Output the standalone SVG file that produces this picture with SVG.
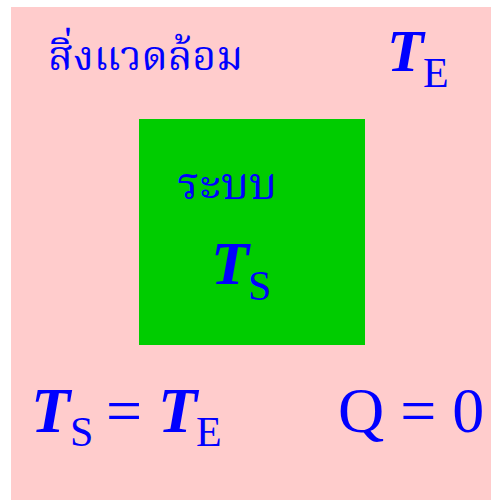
<svg xmlns="http://www.w3.org/2000/svg" width="491" height="500" viewBox="0 0 491 500">
<style>
.t{fill:#0000ff;font-family:"Liberation Serif","Times New Roman",serif}
.i{font-style:italic;font-weight:bold}
.sub{font-size:42px;font-style:normal;font-weight:normal}
.th{fill:#0000ff;font-family:"Liberation Serif","Noto Serif Thai","Noto Sans Thai",serif}
</style>
<rect x="11" y="7" width="480" height="493" fill="#ffcccc"/>
<g id="system">
<rect x="139" y="119" width="226" height="226" fill="#00cc00"/>
<text class="th" x="177" y="199" font-size="45">ระบบ</text>
<text class="t" font-size="62"><tspan class="i" x="211" y="284">T</tspan><tspan class="sub" x="248" y="300">S</tspan></text>
</g>
<g id="environment">
<text class="th" x="48" y="70" font-size="41">สิ่งแวดล้อม</text>
<text class="t" font-size="60"><tspan class="i" x="387" y="71">T</tspan><tspan class="sub" x="423" y="87">E</tspan></text>
</g>
<g id="equations">
<text class="t" font-size="64"><tspan class="i" x="31" y="432">T</tspan><tspan class="sub" x="70" y="446">S</tspan><tspan x="106" y="432">=</tspan><tspan class="i" x="158" y="432">T</tspan><tspan class="sub" x="196" y="446">E</tspan></text>
<text class="t" font-size="64" x="338" y="432">Q = 0</text>
</g>
</svg>
